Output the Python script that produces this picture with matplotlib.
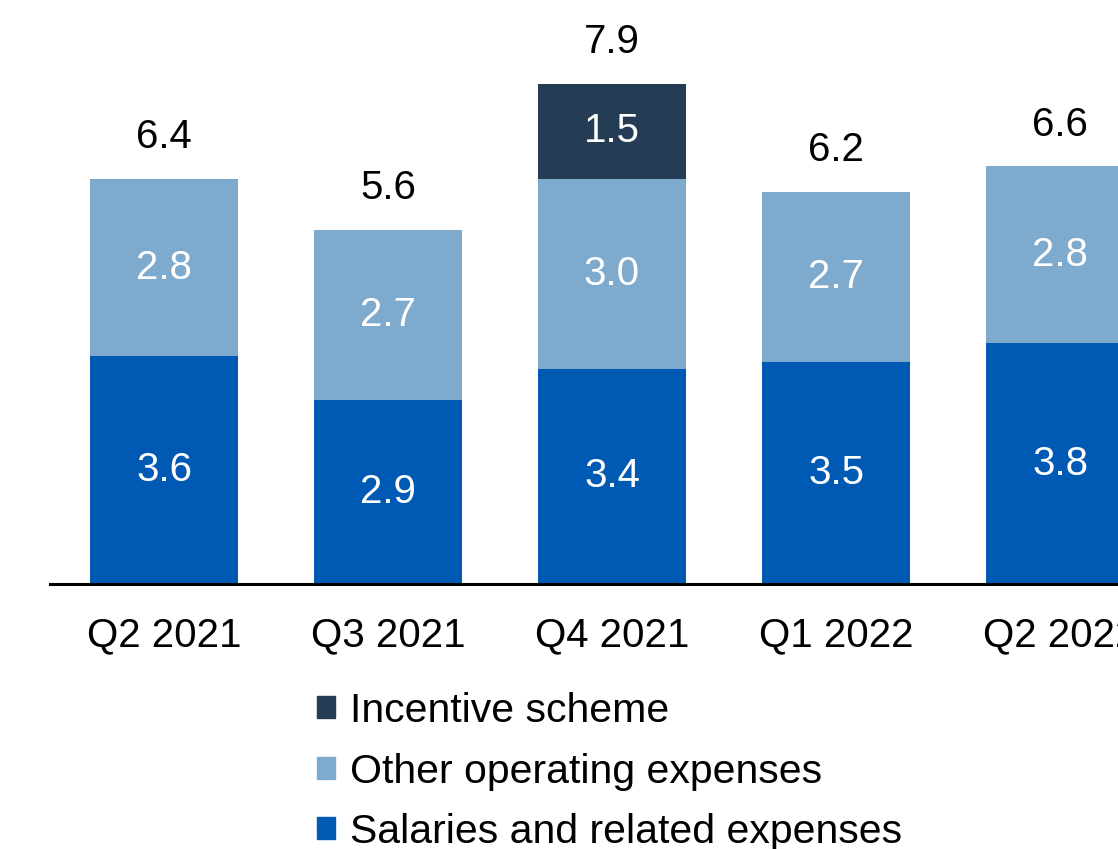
import matplotlib
matplotlib.use("Agg")
import matplotlib.pyplot as plt
from matplotlib.patches import Patch

plt.rcParams['font.family'] = ['Liberation Sans', 'DejaVu Sans']

quarters = ["Q2 2021", "Q3 2021", "Q4 2021", "Q1 2022", "Q2 2022"]
salaries = [3.6, 2.9, 3.4, 3.5, 3.8]
other_opex = [2.8, 2.7, 3.0, 2.7, 2.8]
incentive = [0.0, 0.0, 1.5, 0.0, 0.0]
totals = [6.4, 5.6, 7.9, 6.2, 6.6]

c_sal = "#005AB4"
c_oth = "#7EAACE"
c_inc = "#243D55"

W, H = 1118, 849
fig = plt.figure(figsize=(W / 100, H / 100), dpi=100)
ax = fig.add_axes([50 / W, 265 / H, (W - 50) / W, 564 / H])

x = list(range(len(quarters)))
bw = 0.66
ax.bar(x, salaries, bw, color=c_sal, label="Salaries and related expenses")
ax.bar(x, other_opex, bw, bottom=salaries, color=c_oth, label="Other operating expenses")
bot3 = [s + o for s, o in zip(salaries, other_opex)]
ax.bar(x, incentive, bw, bottom=bot3, color=c_inc, label="Incentive scheme")

fs = 29
for i in x:
    ax.text(i, salaries[i] / 2, f"{salaries[i]:.1f}", ha="center", va="center",
            color="white", fontsize=fs)
    ax.text(i, salaries[i] + other_opex[i] / 2, f"{other_opex[i]:.1f}", ha="center",
            va="center", color="white", fontsize=fs)
    if incentive[i] > 0:
        ax.text(i, bot3[i] + incentive[i] / 2, f"{incentive[i]:.1f}", ha="center",
                va="center", color="white", fontsize=fs)
    top = bot3[i] + incentive[i]
    ax.annotate(f"{totals[i]:.1f}", (i, top), xytext=(0, 30), textcoords="offset points",
                ha="center", va="center", color="black", fontsize=fs)

ax.set_xlim(-0.509, 4.259)
ax.set_ylim(0, 8.91)
ax.set_xticks(x)
ax.set_xticklabels(quarters, fontsize=fs)
ax.tick_params(axis="x", length=0, pad=23)
ax.set_yticks([])
for s in ["top", "right", "left"]:
    ax.spines[s].set_visible(False)
ax.spines["bottom"].set_linewidth(2.2)
ax.spines["bottom"].set_color("black")

handles = [Patch(color=c_inc), Patch(color=c_oth), Patch(color=c_sal)]
labels = ["Incentive scheme", "Other operating expenses", "Salaries and related expenses"]
fig.legend(handles, labels, loc="upper left", bbox_to_anchor=(317 / W, 1 - 692 / H),
           frameon=False, fontsize=29.5, handlelength=0.45, handleheight=0.45,
           handletextpad=0.35, labelspacing=0.55, borderpad=0, borderaxespad=0)

fig.savefig("out.png", dpi=100)
